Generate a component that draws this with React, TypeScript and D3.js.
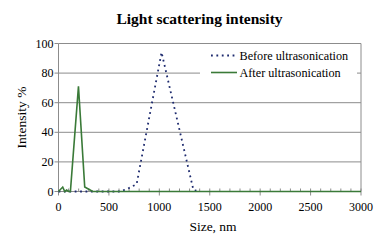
import React from "react";
import * as d3 from "d3";

const beforeSize = [0, 100, 300, 500, 610, 690, 775, 1022, 1338, 1400];
const beforeValue = [0, 0, 0, 0, 0, 2, 5, 94, 1, 0];
const afterSize = [0, 42, 62, 80, 100, 118, 198, 260, 300, 340, 3000];
const afterValue = [0, 3, 0, 1, 0, 0, 71, 3, 1.5, 0, 0];
const xTicks = [0, 500, 1000, 1500, 2000, 2500, 3000];
const yTicks = [0, 20, 40, 60, 80, 100];
const title = "Light scattering intensity";
const xLabel = "Size, nm";
const yLabel = "Intensity %";
const legendLabels = ["Before ultrasonication", "After ultrasonication"];

const W = 388, H = 250;
const L = 58.5, R = 361, T = 43.5, B = 191.5;
const serif = "Liberation Serif";
const navy = "#1d2a6e";
const green = "#3a7a38";
const grid = "#8c8c8c";

export default function App() {
  const x = d3.scaleLinear().domain([0, 3000]).range([L, R]);
  const y = d3.scaleLinear().domain([0, 100]).range([B, T]);
  const line = d3.line<[number, number]>().x(d => x(d[0])).y(d => y(d[1]));
  const before = beforeSize.map((s, i) => [s, beforeValue[i]] as [number, number]);
  const after = afterSize.map((s, i) => [s, afterValue[i]] as [number, number]);
  const minor = d3.range(0, 3001, 100).filter(v => v % 500 !== 0);
  const ts = { fontFamily: serif };
  return (
    <svg width={W} height={H} style={{ position: "absolute", left: 0, top: 0, background: "#fff", fontFamily: serif }}>
      <rect x={0} y={0} width={W} height={H} fill="#fff" />
      <text style={ts} x={199.5} y={24} textAnchor="middle" fontSize={15.5} fontWeight="bold">{title}</text>
      {yTicks.filter(v => v > 0 && v < 100).map(v => (
        <line key={v} x1={L} x2={R} y1={y(v)} y2={y(v)} stroke={grid} strokeWidth={1} />
      ))}
      <line x1={L} x2={R} y1={T} y2={T} stroke={grid} strokeWidth={1} />
      <line x1={R} x2={R} y1={T} y2={B} stroke={grid} strokeWidth={1} />
      <line x1={L} x2={L} y1={T} y2={B} stroke={grid} strokeWidth={1} />
      <line x1={L} x2={R} y1={B} y2={B} stroke={grid} strokeWidth={1} />
      {yTicks.map(v => (
        <g key={v}>
          <line x1={L - 4} x2={L} y1={y(v)} y2={y(v)} stroke={grid} />
          <text style={ts} x={L - 5} y={y(v) + 4} textAnchor="end" fontSize={12}>{v}</text>
        </g>
      ))}
      {xTicks.map(v => (
        <g key={v}>
          <line x1={x(v)} x2={x(v)} y1={B - 3} y2={B + 4} stroke={grid} />
          <text style={ts} x={x(v)} y={B + 19} textAnchor="middle" fontSize={12}>{v}</text>
        </g>
      ))}
      {minor.map(v => (
        <line key={v} x1={x(v)} x2={x(v)} y1={B - 3} y2={B} stroke={grid} />
      ))}
      <rect x={200} y={46} width={157} height={36} fill="#fff" />
      <path d={line(before) || ""} fill="none" stroke={navy} strokeWidth={1.8} strokeDasharray="1.8 3.6" />
      <path d={line(after) || ""} fill="none" stroke={green} strokeWidth={1.6} />
      <line x1={211} x2={237} y1={55.5} y2={55.5} stroke={navy} strokeWidth={1.8} strokeDasharray="1.8 3.6" />
      <text style={ts} x={239.5} y={59.5} fontSize={12.2}>{legendLabels[0]}</text>
      <line x1={211} x2={237} y1={72.5} y2={72.5} stroke={green} strokeWidth={1.6} />
      <text style={ts} x={239.5} y={76.5} fontSize={12.2}>{legendLabels[1]}</text>
      <text style={ts} transform={`translate(26,117.5) rotate(-90)`} textAnchor="middle" fontSize={13.5}>{yLabel}</text>
      <text style={ts} x={213} y={231} textAnchor="middle" fontSize={13.5}>{xLabel}</text>
    </svg>
  );
}
